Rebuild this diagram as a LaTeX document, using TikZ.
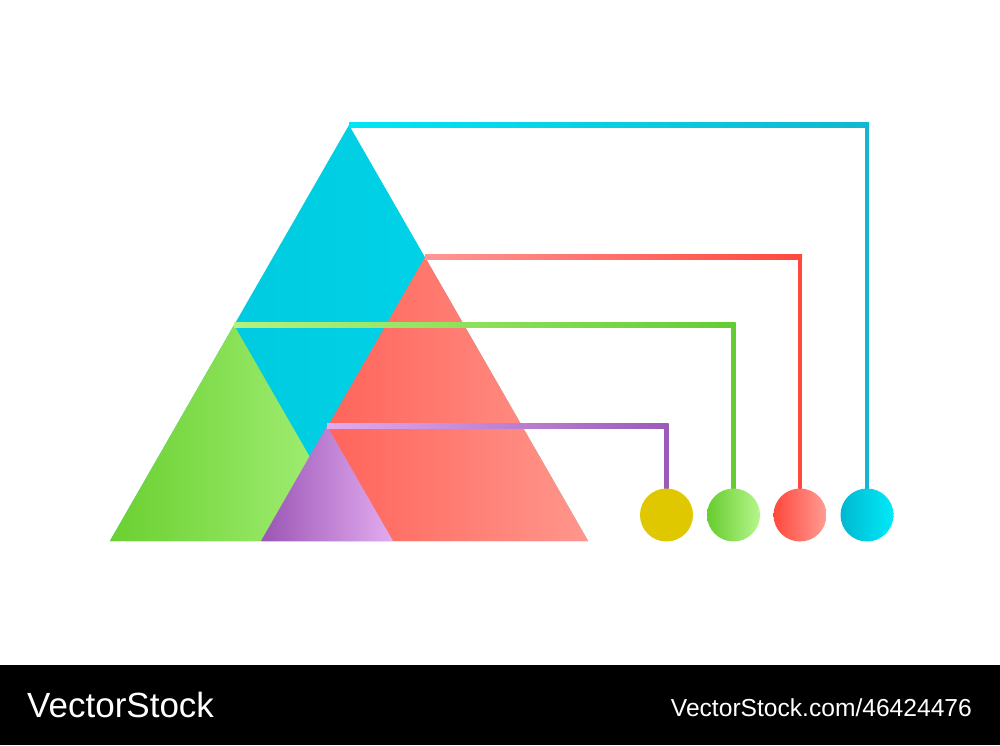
\documentclass[tikz,border=0pt]{standalone}
\usepackage{fontspec}
\setmainfont{Liberation Sans}
\usetikzlibrary{calc}
\definecolor{cyA}{RGB}{0,198,220}
\definecolor{cyB}{RGB}{0,216,236}
\definecolor{cyLA}{RGB}{0,230,245}
\definecolor{cyLB}{RGB}{18,182,208}
\definecolor{cyCA}{RGB}{0,184,208}
\definecolor{cyCB}{RGB}{0,234,248}
\definecolor{rdA}{RGB}{255,88,78}
\definecolor{rdB}{RGB}{255,150,140}
\definecolor{rdLA}{RGB}{255,150,148}
\definecolor{rdLB}{RGB}{255,72,62}
\definecolor{rdCA}{RGB}{255,72,60}
\definecolor{rdCB}{RGB}{255,156,148}
\definecolor{grA}{RGB}{106,208,48}
\definecolor{grB}{RGB}{170,242,126}
\definecolor{grLA}{RGB}{178,242,128}
\definecolor{grLB}{RGB}{100,204,50}
\definecolor{grCA}{RGB}{102,204,46}
\definecolor{grCB}{RGB}{182,246,140}
\definecolor{puA}{RGB}{155,85,181}
\definecolor{puB}{RGB}{226,172,240}
\definecolor{puLA}{RGB}{226,170,240}
\definecolor{puLB}{RGB}{154,92,184}
\definecolor{yeC}{RGB}{224,200,0}
\tikzset{
  conn/.style={line width=4.4pt},
  dot/.style={circle, minimum size=53pt, inner sep=0pt},
}
\begin{document}
\begin{tikzpicture}[x=1pt,y=-1pt]
\useasboundingbox (0,0) rectangle (1000,745);
\fill[white] (0,0) rectangle (1000,665);
\fill[black] (0,665) rectangle (1000,745);
% apex coordinates
\coordinate (capex) at (349,125);
\coordinate (rapex) at (425,257);
\coordinate (gapex) at (234,325);
\coordinate (papex) at (327,426);
% triangles
\shade[left color=cyA, right color=cyB] (capex) -- (110,541) -- (588,541) -- cycle;
\shade[left color=grA, right color=grB] (gapex) -- (109.9,541) -- (358.1,541) -- cycle;
\shade[left color=rdA, right color=rdB] (rapex) -- (261.8,541) -- (588.2,541) -- cycle;
\shade[left color=puA, right color=puB] (papex) -- (261,541) -- (393,541) -- cycle;
% circles (nodes)
\node[dot] (cy) at (666.5,515) {};
\node[dot] (cg) at (733.5,515) {};
\node[dot] (cr) at (800,515) {};
\node[dot] (cc) at (867,515) {};
% connectors
\draw[conn, cyLB] (capex) -| (cc.center);
\shade[left color=cyLA, right color=cyLB] ($(capex)+(0,-2.2)$) rectangle ($(capex -| cc)+(2.2,2.2)$);
\draw[conn, rdLB] (rapex) -| (cr.center);
\shade[left color=rdLA, right color=rdLB] ($(rapex)+(0,-2.2)$) rectangle ($(rapex -| cr)+(2.2,2.2)$);
\draw[conn, grLB] (gapex) -| (cg.center);
\shade[left color=grLA, right color=grLB] ($(gapex)+(0,-2.2)$) rectangle ($(gapex -| cg)+(2.2,2.2)$);
\draw[conn, puLB] (papex) -| (cy.center);
\shade[left color=puLA, right color=puLB] ($(papex)+(0,-2.2)$) rectangle ($(papex -| cy)+(2.2,2.2)$);
% circle fills on top
\fill[yeC] (cy.center) circle (26.5);
\shade[left color=grCA, right color=grCB] (cg.center) circle (26.5);
\shade[left color=rdCA, right color=rdCB] (cr.center) circle (26.5);
\shade[left color=cyCA, right color=cyCB] (cc.center) circle (26.5);
% watermark
\node[anchor=base west, inner sep=0pt, text=white, font=\fontsize{35}{40}\selectfont] (wm1) at (27,717) {VectorStock};
\node[anchor=base east, inner sep=0pt, text=white, font=\fontsize{24.6}{28}\selectfont] (wm2) at (972,716) {VectorStock.com/46424476};
\end{tikzpicture}
\end{document}
